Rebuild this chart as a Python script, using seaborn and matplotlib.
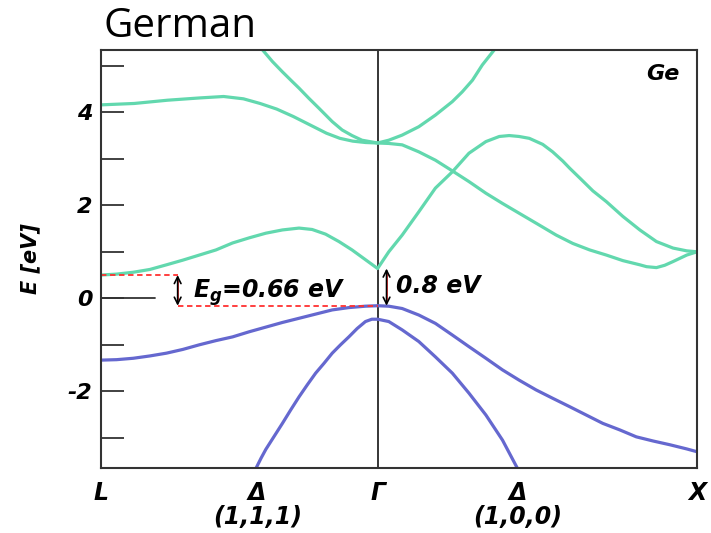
import numpy as np
import pandas as pd
import matplotlib
matplotlib.use("Agg")
import matplotlib.pyplot as plt
import seaborn as sns

# Energy references (eV)
E_vbm = -0.16          # top of the valence band at Gamma
E_gap_L = 0.66         # indirect gap (L valley)
E_gap_G = 0.80         # direct gap at Gamma

# High-symmetry path: L (-0.866) -> Gamma (0) -> X (1)
tick_pos = [-0.866, -0.377, 0.0, 0.440, 1.0]
tick_labels = ["L", "Δ\n(1,1,1)", "Γ", "Δ\n(1,0,0)", "X"]

# Conduction bands
band_a_k = [-0.360, -0.329, -0.298, -0.267, -0.246, -0.215, -0.184, -0.142,
            -0.111, -0.080, -0.049, 0.0,
            0.035, 0.077, 0.129, 0.181, 0.234, 0.265, 0.297, 0.328, 0.365]
band_a_E = [5.34, 5.09, 4.87, 4.66, 4.52, 4.30, 4.09, 3.80,
            3.62, 3.50, 3.40, 3.34,
            3.40, 3.51, 3.69, 3.94, 4.23, 4.44, 4.69, 5.02, 5.34]

band_b_k = [-0.866, -0.762, -0.658, -0.555, -0.482, -0.420, -0.368, -0.316,
            -0.264, -0.212, -0.160, -0.118, -0.078, -0.037, 0.0,
            0.035, 0.077, 0.129, 0.181, 0.234, 0.286, 0.339, 0.391, 0.443,
            0.500, 0.559, 0.611, 0.664, 0.716, 0.768, 0.821, 0.842, 0.873,
            0.899, 0.925, 0.968, 1.0]
band_b_E = [4.16, 4.19, 4.26, 4.31, 4.34, 4.29, 4.19, 4.07,
            3.91, 3.73, 3.55, 3.44, 3.38, 3.35, 3.34,
            3.33, 3.30, 3.15, 2.97, 2.74, 2.51, 2.26, 2.04, 1.83,
            1.60, 1.36, 1.18, 1.04, 0.93, 0.81, 0.72, 0.68, 0.66,
            0.71, 0.79, 0.93, 1.00]

band_c_k = [-0.866, -0.817, -0.765, -0.713, -0.661, -0.610, -0.558, -0.506,
            -0.454, -0.402, -0.350, -0.298, -0.246, -0.205, -0.163, -0.121,
            -0.080, -0.038, 0.0,
            0.035, 0.077, 0.129, 0.181, 0.234, 0.286, 0.339, 0.381, 0.412,
            0.443, 0.475, 0.517, 0.548, 0.580, 0.601, 0.637, 0.674, 0.716,
            0.768, 0.821, 0.873, 0.925, 0.968, 1.0]
band_c_E = [E_vbm + E_gap_L, 0.52, 0.56, 0.62, 0.72, 0.82, 0.93, 1.04,
            1.19, 1.30, 1.40, 1.47, 1.51, 1.48, 1.38, 1.22,
            1.04, 0.83, E_vbm + E_gap_G,
            1.00, 1.36, 1.86, 2.37, 2.72, 3.12, 3.37, 3.48, 3.50,
            3.48, 3.44, 3.31, 3.15, 2.95, 2.80, 2.56, 2.31, 2.08,
            1.76, 1.47, 1.22, 1.08, 1.02, 1.00]

# Valence bands
band_v1_k = [-0.866, -0.817, -0.765, -0.713, -0.661, -0.610, -0.558, -0.506,
             -0.454, -0.402, -0.350, -0.298, -0.246, -0.194, -0.142, -0.090,
             -0.038, 0.0,
             0.035, 0.077, 0.129, 0.181, 0.234, 0.286, 0.339, 0.391, 0.443,
             0.496, 0.548, 0.601, 0.653, 0.705, 0.758, 0.810, 0.863, 0.915,
             0.968, 1.0]
band_v1_E = [-1.33, -1.32, -1.29, -1.24, -1.18, -1.10, -1.00, -0.91,
             -0.83, -0.72, -0.62, -0.52, -0.43, -0.34, -0.25, -0.20,
             -0.17, E_vbm,
             -0.17, -0.22, -0.36, -0.54, -0.79, -1.04, -1.29, -1.54, -1.76,
             -1.97, -2.15, -2.33, -2.51, -2.69, -2.83, -2.98, -3.07, -3.15,
             -3.24, -3.30]

band_v2_k = [-0.381, -0.365, -0.350, -0.324, -0.298, -0.272, -0.246, -0.220,
             -0.194, -0.168, -0.142, -0.116, -0.090, -0.064, -0.038, -0.018,
             0.0, 0.035, 0.077, 0.129, 0.181, 0.234, 0.286, 0.339, 0.391,
             0.438]
band_v2_E = [-3.66, -3.44, -3.25, -2.97, -2.69, -2.40, -2.12, -1.86,
             -1.61, -1.40, -1.18, -1.00, -0.83, -0.65, -0.50, -0.45,
             -0.45, -0.50, -0.68, -0.93, -1.26, -1.61, -2.04, -2.51, -3.05,
             -3.66]

bands = [
    ("a", "conduction", band_a_k, band_a_E),
    ("b", "conduction", band_b_k, band_b_E),
    ("c", "conduction", band_c_k, band_c_E),
    ("v1", "valence", band_v1_k, band_v1_E),
    ("v2", "valence", band_v2_k, band_v2_E),
]
df = pd.concat(
    [pd.DataFrame({"band": n, "kind": t, "k": k, "E": e}) for n, t, k, e in bands],
    ignore_index=True,
)

sns.set_style("white")
plt.rcParams["font.family"] = ["DejaVu Sans"]
plt.rcParams["text.color"] = "black"
plt.rcParams["axes.labelcolor"] = "black"
plt.rcParams["xtick.labelcolor"] = "black"
plt.rcParams["ytick.labelcolor"] = "black"
plt.rcParams["mathtext.fontset"] = "custom"
plt.rcParams["mathtext.it"] = "DejaVu Sans:bold:italic"
plt.rcParams["mathtext.rm"] = "DejaVu Sans:bold"
plt.rcParams["mathtext.bf"] = "DejaVu Sans:bold"

teal = "#62d8ae"
blue = "#6568cf"
spine_col = "#333333"

fig = plt.figure(figsize=(7.11, 5.33), dpi=100)
ax = fig.add_axes([101 / 711, 1 - 468 / 533, 596 / 711, 418 / 533])

sns.lineplot(data=df, x="k", y="E", hue="kind", units="band", estimator=None,
             sort=False, palette={"conduction": teal, "valence": blue},
             linewidth=2.3, legend=False, ax=ax,
             solid_joinstyle="round", solid_capstyle="round")

ax.set_xlim(-0.866, 1.0)
ax.set_ylim(-3.65, 5.34)
ax.axvline(0, color="black", lw=1.1, zorder=1)

for s in ax.spines.values():
    s.set_color(spine_col)
    s.set_linewidth(1.5)

bi = dict(fontweight="bold", style="italic", color="black")

# y axis
ax.set_yticks([4, 2, 0, -2])
ax.set_yticklabels(["4", "2", "0", "-2"], fontsize=16, **bi)
ax.set_yticks([5, 3, 1, -1, -3], minor=True)
ax.tick_params(axis="y", which="both", direction="in", length=16.5, width=1.3,
               color=spine_col, left=True, pad=6)
ax.plot([-0.866, -0.866 + 54 / 319.4], [0, 0], color=spine_col, lw=1.3)
ax.set_ylabel("E [eV]", fontsize=15, labelpad=20, **bi)

# x axis
ax.set_xticks(tick_pos)
ax.set_xticklabels(tick_labels, fontsize=17, linespacing=1.0, **bi)
ax.tick_params(axis="x", length=0, pad=9)
ax.set_xlabel("")

# gap markers
red = "#ff3030"
x_eg = -0.626
x_g = 0.028
ax.plot([-0.866, x_eg], [E_vbm + E_gap_L] * 2, color=red, lw=1.3, ls=(0, (3, 2)))
ax.plot([x_eg, 0.0], [E_vbm] * 2, color=red, lw=1.3, ls=(0, (3, 2)))

for x0, top in [(x_eg, E_vbm + E_gap_L), (x_g, E_vbm + E_gap_G)]:
    ax.annotate("", xy=(x0, top), xytext=(x0, E_vbm),
                arrowprops=dict(arrowstyle="<->", color="black", lw=1.2,
                                shrinkA=0, shrinkB=0, mutation_scale=12))
    ax.plot([x0, x0], [E_vbm + 0.12, top - 0.12], color=red, lw=1.3)

ax.text(-0.579, 0.0, r"$E_g$=0.66 eV", fontsize=17, va="baseline", **bi)
ax.text(0.057, 0.11, "0.8 eV", fontsize=17, va="baseline", **bi)
ax.text(0.971, 0.943, "Ge", transform=ax.transAxes, ha="right", va="center",
        fontsize=16, **bi)

fig.text(103 / 711, 1 - 37 / 533, "German", fontsize=29, va="baseline",
         color="black", family=["Open Sans", "DejaVu Sans"])

fig.savefig("out.png", dpi=100)
